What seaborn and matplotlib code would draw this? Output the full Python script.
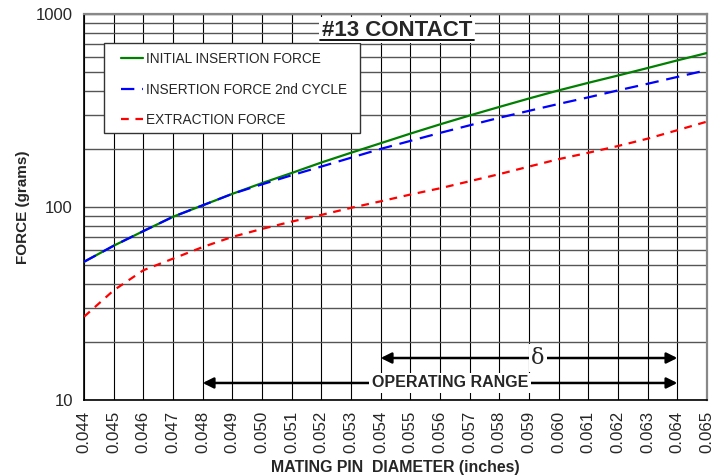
import numpy as np
import pandas as pd
import matplotlib
matplotlib.use("Agg")
import matplotlib.pyplot as plt
from matplotlib.ticker import LogLocator, FixedLocator, NullFormatter
from matplotlib.lines import Line2D
from matplotlib.patches import Rectangle
import seaborn as sns

# data
diameter = [0.044, 0.045, 0.046, 0.047, 0.048, 0.049, 0.050, 0.051, 0.052, 0.053, 0.054,
            0.055, 0.056, 0.057, 0.058, 0.059, 0.060, 0.061, 0.062, 0.063, 0.064, 0.065]
initial_insertion = [52, 63, 75, 89, 102, 117, 133, 150, 170, 191, 214,
                     240, 268, 298, 330, 365, 402, 440, 480, 525, 575, 628]
insertion_2nd = [52, 63, 75, 89, 102, 117, 131, 146, 162, 180, 200,
                 220, 242, 265, 290, 315, 342, 370, 402, 435, 472, 512]
extraction = [27, 37, 47, 54, 62, 70, 77, 84, 91, 99, 107,
              116, 125, 136, 148, 162, 177, 191, 207, 226, 250, 277]
x_ticks = [round(0.044 + 0.001 * i, 3) for i in range(22)]

series_names = ["INITIAL INSERTION FORCE", "INSERTION FORCE 2nd CYCLE", "EXTRACTION FORCE"]
df = pd.DataFrame({
    "diameter": diameter * 3,
    "force": initial_insertion + insertion_2nd + extraction,
    "series": [series_names[0]] * 22 + [series_names[1]] * 22 + [series_names[2]] * 22,
})

sns.set_style("white")
plt.rcParams["font.family"] = ["Liberation Sans", "DejaVu Sans"]

fig = plt.figure(figsize=(7.25, 4.76), dpi=100)
ax = fig.add_axes([0.1159, 0.1597, 0.8593, 0.8109])

ax.set_yscale("log")
ax.set_ylim(10, 1000)
ax.set_xlim(0.044, 0.065)

# grid
ax.xaxis.set_major_locator(FixedLocator(x_ticks))
ax.yaxis.set_major_locator(LogLocator(base=10))
ax.yaxis.set_minor_locator(LogLocator(base=10, subs=np.arange(2, 10)))
ax.yaxis.set_minor_formatter(NullFormatter())
ax.grid(True, which="major", axis="x", color="black", lw=0.8)
ax.grid(True, which="both", axis="y", color="#555555", lw=1.0)

palette = {series_names[0]: "#008000", series_names[1]: "#0000ff", series_names[2]: "#ff0000"}
sns.lineplot(data=df, x="diameter", y="force", hue="series", palette=palette,
             ax=ax, lw=1.6, legend=False, zorder=3)
ax.lines[-3].set_linestyle("-")
ax.lines[-2].set_dashes([6, 3.5])
ax.lines[-1].set_dashes([3.5, 3])

ax.set_xticklabels([f"{v:.3f}" for v in x_ticks], rotation=90, fontsize=12.2)
ax.set_yticks([10, 100, 1000])
ax.set_yticklabels(["10", "100", "1000"], fontsize=12)
ax.tick_params(axis="both", which="major", direction="out", length=5, width=1, color="black", pad=3)
ax.tick_params(axis="y", which="minor", length=0)
ax.set_xlabel("MATING PIN  DIAMETER (inches)", fontsize=11.4, fontweight="bold")
ax.xaxis.set_label_coords(0.5, -0.1554)
ax.set_ylabel("FORCE (grams)", fontsize=11, fontweight="bold", labelpad=4)

for s in ["left", "bottom"]:
    ax.spines[s].set_color("black")
    ax.spines[s].set_linewidth(1.2)
for s in ["top", "right"]:
    ax.spines[s].set_color("#888888")
    ax.spines[s].set_linewidth(1.6)

# legend box drawn by hand, legend itself frameless
ax.add_patch(Rectangle((0.0321, 0.6917), 0.411, 0.2332, transform=ax.transAxes,
                       facecolor="white", edgecolor="#333333", lw=1.0, zorder=5))
handles = [Line2D([], [], color="#008000", lw=1.6),
           Line2D([], [], color="#0000ff", lw=1.6, dashes=[6, 3.5]),
           Line2D([], [], color="#ff0000", lw=1.6, dashes=[3.5, 3])]
leg = ax.legend(handles, series_names, loc="upper left", bbox_to_anchor=(0.0594, 0.901),
                fontsize=9.8, frameon=False, handlelength=1.6, handletextpad=0.2,
                labelspacing=1.2, borderpad=0, borderaxespad=0)
leg.set_zorder(6)

# title
ax.text(0.05455, 826, "#13 CONTACT", fontsize=16, fontweight="bold", ha="center", va="center",
        bbox=dict(facecolor="white", edgecolor="none", pad=2), zorder=6)
ax.plot([0.05197, 0.05713], [733, 733], color="black", lw=1.3, zorder=7)

# range arrows
ax.annotate("", xy=(0.054, 16.5), xytext=(0.064, 16.5),
            arrowprops=dict(arrowstyle="<|-|>", color="black", lw=1.8, mutation_scale=16,
                            shrinkA=0, shrinkB=0), zorder=4)
ax.text(0.0593, 16.5, "δ", fontsize=16, ha="center", va="center", family=["DejaVu Serif"],
        bbox=dict(facecolor="white", edgecolor="none", pad=2), zorder=5)
ax.annotate("", xy=(0.048, 12.25), xytext=(0.064, 12.25),
            arrowprops=dict(arrowstyle="<|-|>", color="black", lw=1.8, mutation_scale=16,
                            shrinkA=0, shrinkB=0), zorder=4)
ax.text(0.05634, 12.25, "OPERATING RANGE", fontsize=11.5, fontweight="bold", ha="center", va="center",
        bbox=dict(facecolor="white", edgecolor="none", pad=2), zorder=5)

fig.savefig("out.png", dpi=100)
